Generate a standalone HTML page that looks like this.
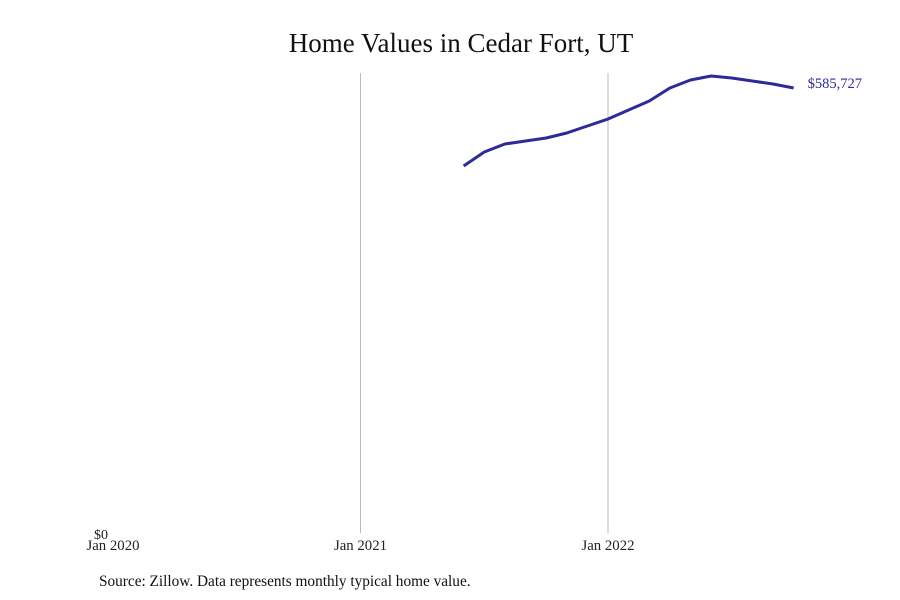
<!DOCTYPE html>
<html><head><meta charset="utf-8"><style>
body{margin:0;background:#fff;}
svg{display:block;font-family:"Liberation Serif",serif;}
</style></head><body>
<svg id="chart" width="900" height="600">
<text x="461" y="52" font-size="27" text-anchor="middle" fill="#111">Home Values in Cedar Fort, UT</text>
<g id="grid"></g>
<g id="series"></g>
<text x="99" y="586" font-size="15.3" fill="#111">Source: Zillow. Data represents monthly typical home value.</text>
</svg>
<script>
const monthIndex=[17,18,19,20,21,22,23,24,25,26,27,28,29,30,31,32,33];
const values=[483050,501470,512000,515950,519900,526480,535700,544900,556750,568600,585727,596250,601500,598880,594930,590980,585727];
const xTickMonths=[0,12,24];
const xTickLabels=["Jan 2020","Jan 2021","Jan 2022"];
const endLabel="$585,727";
const NS="http://www.w3.org/2000/svg";
const x=m=>113+m*20.625;
const y=v=>533-v/585727*445;
const grid=document.getElementById('grid');
xTickMonths.forEach((m,i)=>{
  if(i>0){const l=document.createElementNS(NS,'line');
  l.setAttribute('x1',x(m));l.setAttribute('x2',x(m));l.setAttribute('y1',73);l.setAttribute('y2',533);
  l.setAttribute('stroke','#bbb');l.setAttribute('stroke-width','1');
  
  
  grid.appendChild(l);}
  const t=document.createElementNS(NS,'text');
  t.setAttribute('x',x(m));t.setAttribute('y',550);t.setAttribute('font-size','14.8');t.setAttribute('text-anchor','middle');t.setAttribute('fill','#222');
  t.textContent=xTickLabels[i];
  
  
  grid.appendChild(t);
});
const z=document.createElementNS(NS,'text');
z.setAttribute('x',94);z.setAttribute('y',539);z.setAttribute('font-size','14');z.setAttribute('fill','#222');z.textContent='$0';


grid.appendChild(z);
const s=document.getElementById('series');
const p=document.createElementNS(NS,'polyline');
p.setAttribute('points',monthIndex.map((m,i)=>x(m)+','+y(values[i])).join(' '));
p.setAttribute('fill','none');p.setAttribute('stroke','#2e2a99');p.setAttribute('stroke-width','3');p.setAttribute('stroke-linejoin','round');


s.appendChild(p);
const last=values.length-1;
const e=document.createElementNS(NS,'text');
e.setAttribute('x',x(monthIndex[last])+14);e.setAttribute('y',y(values[last]));e.setAttribute('font-size','14.5');e.setAttribute('fill','#2e2a99');
e.textContent=endLabel;


s.appendChild(e);
</script>
</body></html>
